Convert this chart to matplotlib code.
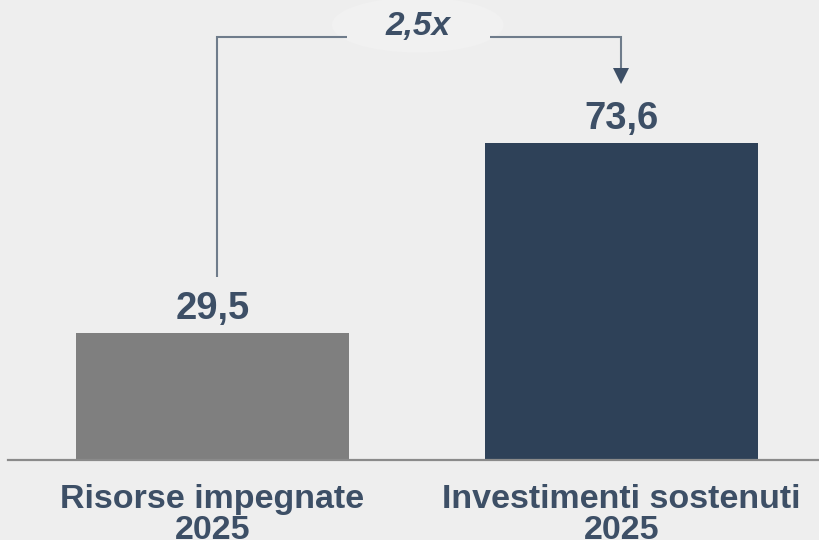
import matplotlib.pyplot as plt
from matplotlib.patches import Ellipse

plt.rcParams['font.family'] = ['Liberation Sans', 'DejaVu Sans']

# Data
categories = ['Risorse impegnate\n2025', 'Investimenti sostenuti\n2025']
values = [29.5, 73.6]
value_labels = ['29,5', '73,6']
ratio_label = '2,5x'

bg = '#EEEEEE'
bar_colors = ['#7F7F7F', '#2E4158']
text_color = '#3D4F66'
line_color = '#6F7C8B'

fig = plt.figure(figsize=(8.19, 5.4), dpi=100, facecolor=bg)
ax = fig.add_axes([8 / 819, 80 / 540, 811 / 819, 460 / 540])
ax.set_facecolor(bg)

x = [0, 1]
ax.bar(x, values, width=0.667, color=bar_colors, zorder=2)

# Value labels above bars
for xi, v, lab in zip(x, values, value_labels):
    ax.text(xi, v + 3.2, lab, ha='center', va='baseline', fontsize=27.5,
            fontweight='bold', color=text_color)

# Bracket with ratio
top = 98.3
ax.plot([x[0] + 0.01, x[0] + 0.01, 0.329], [values[0] + 13, top, top],
        color=line_color, lw=1.5, solid_capstyle='butt', solid_joinstyle='miter')
ax.plot([0.678, x[1], x[1]], [top, top, 90], color=line_color, lw=1.5,
        solid_capstyle='butt', solid_joinstyle='miter')
ax.plot([x[1]], [89.1], marker='v', markersize=11.5, color=text_color,
        markeredgewidth=0)
ax.add_patch(Ellipse((0.502, 101), 0.42, 12.8, color='#F1F1F1', lw=0, zorder=1))
ax.text(0.502, 98.7, ratio_label, ha='center', va='baseline', fontsize=24,
        fontweight='bold', style='italic', color=text_color, zorder=3)

# Axes styling
ax.set_xlim(-0.5, 1.483)
ax.set_ylim(0, 106.8)
for s in ['top', 'right', 'left']:
    ax.spines[s].set_visible(False)
ax.spines['bottom'].set_color('#8A8A8A')
ax.spines['bottom'].set_linewidth(1.6)
ax.set_yticks([])
ax.set_xticks(x)
ax.set_xticklabels(categories, fontsize=24.5, fontweight='bold', color=text_color,
                   linespacing=1.0)
ax.tick_params(axis='x', length=0, pad=17)

fig.savefig('out.png', dpi=100, facecolor=bg)
